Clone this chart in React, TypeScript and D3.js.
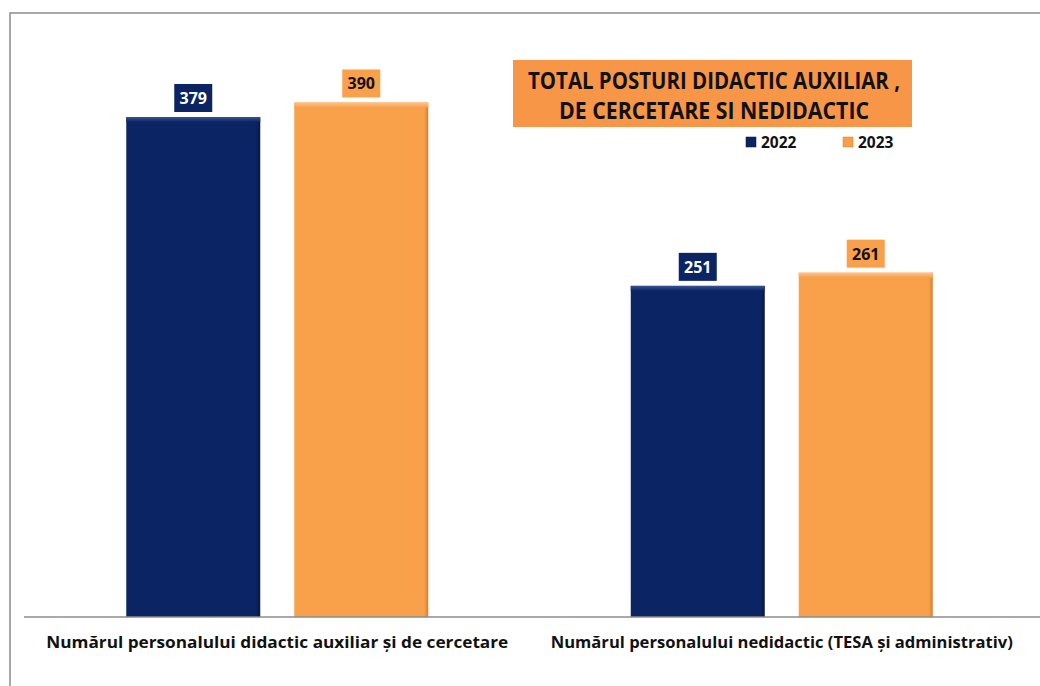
import React from "react";
import * as d3 from "d3";

// Chart data
const categories = [
  "Numărul personalului didactic auxiliar și de cercetare",
  "Numărul personalului nedidactic (TESA și administrativ)",
];
const years = ["2022", "2023"];
const values2022 = [379, 251];
const values2023 = [390, 261];
const titleLines = ["TOTAL POSTURI DIDACTIC AUXILIAR ,", "DE CERCETARE SI NEDIDACTIC"];

const W = 1040;
const H = 686;
const FONT = "'Open Sans', 'Noto Sans', sans-serif";

const COLORS: Record<string, { fill: string; light: string; dark: string; text: string }> = {
  "2022": { fill: "#0b2463", light: "#3a5594", dark: "#061640", text: "#ffffff" },
  "2023": { fill: "#f9a04b", light: "#fcc58c", dark: "#d97c2a", text: "#111111" },
};

const series: Record<string, number[]> = { "2022": values2022, "2023": values2023 };

export default function App() {
  const baseY = 617;
  const x0 = d3.scaleBand<string>().domain(categories).range([25, 1034]).padding(0);
  const x1 = d3
    .scaleBand<string>()
    .domain(years)
    .range([0, x0.bandwidth()])
    .paddingInner(0.2024)
    .paddingOuter(0.6027);
  const y = d3.scaleLinear().domain([0, 400]).range([baseY, baseY - 400 * 1.3193]);

  return (
    <svg width={W} height={H} style={{ position: "absolute", left: 0, top: 0, background: "#fff" }}>
      <defs>
        {years.map((yr) => (
          <linearGradient key={yr} id={`grad-${yr}`} x1="0" x2="1" y1="0" y2="0">
            <stop offset="0" stopColor={COLORS[yr].fill} />
            <stop offset="0.97" stopColor={COLORS[yr].fill} />
            <stop offset="1" stopColor={COLORS[yr].dark} />
          </linearGradient>
        ))}
        {years.map((yr) => (
          <linearGradient key={yr + "t"} id={`top-${yr}`} x1="0" x2="0" y1="0" y2="1">
            <stop offset="0" stopColor={COLORS[yr].light} />
            <stop offset="1" stopColor={COLORS[yr].fill} />
          </linearGradient>
        ))}
      </defs>

      {/* chart frame */}
      <rect x={10} y={13} width={W + 20} height={H + 20} fill="#fff" stroke="#8c8c8c" strokeWidth={1.5} />

      {/* bars */}
      {categories.map((cat, ci) =>
        years.map((yr) => {
          const v = series[yr][ci];
          const bx = (x0(cat) ?? 0) + (x1(yr) ?? 0);
          const bw = x1.bandwidth();
          const top = y(v);
          const cx = bx + bw / 2;
          const c = COLORS[yr];
          return (
            <g key={cat + yr}>
              <rect x={bx} y={top} width={bw} height={baseY - top} fill={`url(#grad-${yr})`} />
              <rect x={bx} y={top} width={bw} height={5} fill={`url(#top-${yr})`} />
              <rect x={cx - 19} y={top - 33} width={38} height={28} fill={c.fill} />
              <text
                x={cx}
                y={top - 13}
                textAnchor="middle"
                fontFamily={FONT}
                fontWeight={700}
                fontSize={16}
                fill={c.text}
              >
                {v}
              </text>
            </g>
          );
        })
      )}

      {/* baseline */}
      <line x1={24} x2={W} y1={baseY} y2={baseY} stroke="#8c8c8c" strokeWidth={1.5} />

      {/* category labels */}
      {categories.map((cat) => (
        <text
          key={cat}
          x={(x0(cat) ?? 0) + x0.bandwidth() / 2}
          y={648}
          textAnchor="middle"
          fontFamily={FONT}
          fontWeight={700}
          fontSize={15.5}
          fill="#111"
          textLength={462}
          lengthAdjust="spacingAndGlyphs"
        >
          {cat}
        </text>
      ))}

      {/* title box */}
      <rect x={513} y={60} width={399} height={67} fill="#f79646" />
      {titleLines.map((t, i) => (
        <text
          key={t}
          x={714}
          y={88.5 + i * 30}
          textAnchor="middle"
          fontFamily={FONT}
          fontWeight={700}
          fontSize={23}
          fill="#111"
          textLength={i === 0 ? 372 : 310}
          lengthAdjust="spacingAndGlyphs"
        >
          {t}
        </text>
      ))}

      {/* legend */}
      {years.map((yr, i) => {
        const lx = 746 + i * 97;
        return (
          <g key={yr}>
            <rect x={lx} y={137} width={10} height={10} fill={COLORS[yr].fill} stroke={COLORS[yr].dark} strokeWidth={0.5} />
            <text x={lx + 15} y={148} fontFamily={FONT} fontWeight={700} fontSize={15.5} fill="#111">
              {yr}
            </text>
          </g>
        );
      })}
    </svg>
  );
}
